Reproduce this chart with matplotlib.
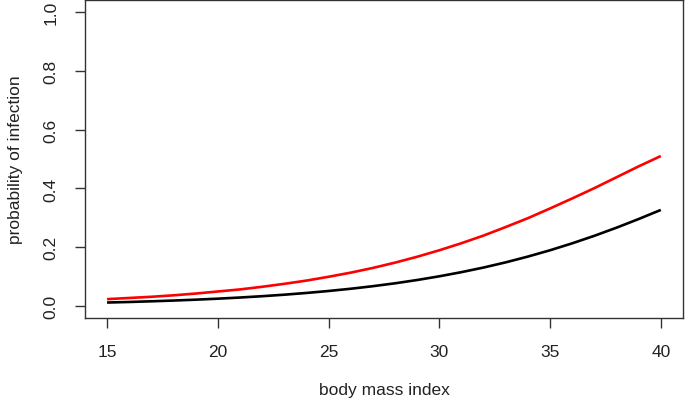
import matplotlib
matplotlib.use("Agg")
import matplotlib.pyplot as plt

# body mass index grid and predicted probabilities
bmi = list(range(15, 41))
prob_red = [0.024, 0.028, 0.032, 0.037, 0.043, 0.050, 0.057, 0.066, 0.076, 0.087,
            0.100, 0.114, 0.130, 0.148, 0.168, 0.190, 0.214, 0.240, 0.269, 0.299,
            0.332, 0.366, 0.401, 0.438, 0.475, 0.510]
prob_black = [0.0125, 0.0144, 0.0167, 0.0192, 0.0222, 0.0256, 0.0295, 0.0340, 0.0391, 0.0450,
              0.0517, 0.0593, 0.0680, 0.0778, 0.0890, 0.1016, 0.1157, 0.1314, 0.1490, 0.1686,
              0.1900, 0.2136, 0.2391, 0.2667, 0.2961, 0.3270]
x_ticks = [15, 20, 25, 30, 35, 40]
y_ticks = [0.0, 0.2, 0.4, 0.6, 0.8, 1.0]

plt.rcParams['font.family'] = ['Liberation Sans', 'DejaVu Sans']

fig = plt.figure(figsize=(6.85, 4.02), dpi=100)
ax = fig.add_axes([0.124, 0.2065, 0.873, 0.791])

ax.plot(bmi, prob_black, color='black', lw=1.9, solid_capstyle='butt')
ax.plot(bmi, prob_red, color='#ff0000', lw=1.9, solid_capstyle='butt')

ax.set_xlim(14, 41)
ax.set_ylim(-0.04, 1.04)
ax.set_xticks(x_ticks)
ax.set_yticks(y_ticks)
ax.set_xticklabels([str(t) for t in x_ticks])
ax.set_yticklabels([f"{t:.1f}" for t in y_ticks], rotation=90, va='center')

for s in ax.spines.values():
    s.set_color('#333333')
    s.set_linewidth(1.0)
ax.tick_params(direction='out', length=7, width=1.0, color='#333333',
               labelsize=12.5, labelcolor='#222222')
ax.tick_params(axis='x', pad=12)
ax.tick_params(axis='y', pad=12)

ax.set_xlabel('body mass index', fontsize=12.5, color='#222222', labelpad=16)
ax.set_ylabel('probability of infection', fontsize=12.5, color='#222222', labelpad=15)

fig.savefig('out.png', dpi=100)
